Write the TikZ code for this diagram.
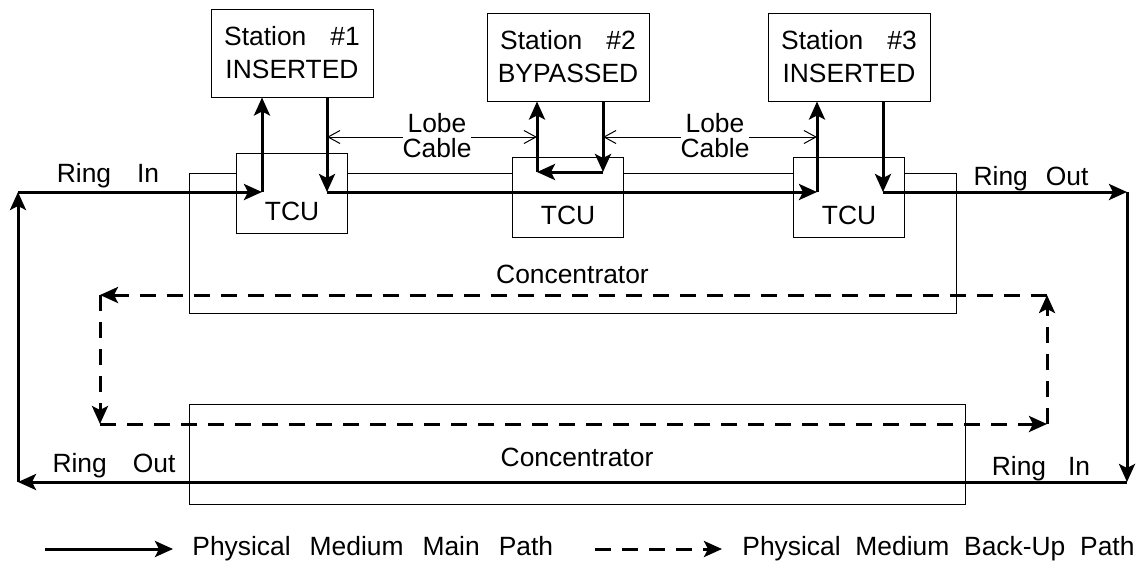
\documentclass[tikz,border=0pt]{standalone}
\usepackage{fontspec}
\setmainfont{Liberation Sans}
\usetikzlibrary{positioning,arrows.meta}
\tikzset{tcu/.style={draw,fill=white,line width=0.5pt,minimum width=55.5pt,minimum height=40pt,
           inner sep=0pt,text height=27pt,text depth=0pt},
         station/.style={draw,line width=0.5pt,minimum width=81pt,minimum height=44pt,
           align=center,font=\fontsize{13.2}{16.5}\selectfont},
         conc/.style={draw,line width=0.5pt,inner sep=0pt,text depth=0pt},
         main/.style={line width=1.5pt,-{Stealth[length=9pt,width=8pt,inset=2pt]}},
         backup/.style={main,dash pattern=on 8pt off 5.5pt},
         lobe/.style={line width=0.5pt,{Straight Barb[length=6pt,width=6.5pt]}-{Straight Barb[length=6pt,width=6.5pt]}},
         lobetext/.style={fill=white,inner sep=0pt,align=center,font=\fontsize{13.2}{12.5}\selectfont},
         lbl/.style={anchor=base,inner sep=0pt},
         every node/.style={font=\fontsize{13.2}{15}\selectfont},
         node distance = 27.5pt
         }
\newcommand{\wgap}[1][10pt]{\hspace{#1}}

\begin{document}
\begin{tikzpicture}[x=0.5pt,y=-0.5pt] % token ring, three stations
        \useasboundingbox (0,0) rectangle (1141,564);
        \node[conc,minimum width=383.5pt,minimum height=70pt,text height=40pt] (conc1) at (572.5,243) {Concentrator};
        \node[conc,minimum width=388pt,minimum height=50pt,text height=12pt] (conc2) at (577,454) {Concentrator};
        \node[tcu] (tcu1) at (292,193) {TCU};
        \node[tcu] (tcu2) at (568,197) {TCU};
        \node[tcu] (tcu3) at (849,197) {TCU};
        \node[station] (st1) [above=of tcu1] {Station\wgap[12pt]\#1\\INSERTED};
        \node[station] (st2) [above=of tcu2] {Station\wgap[12pt]\#2\\BYPASSED};
        \node[station] (st3) [above=of tcu3] {Station\wgap[12pt]\#3\\INSERTED};
        % ring corners and lobe points
        \coordinate (ri1) at (18,192);
        \coordinate (ro1) at (1127,192);
        \coordinate (ri2) at (1127,482);
        \coordinate (ro2) at (18,482);
        \coordinate (in1) at (262,192);
        \coordinate (out1) at (327,192);
        \coordinate (in3) at (817,192);
        \coordinate (out3) at (883,192);
        \coordinate (byr) at (603,172);
        \coordinate (byl) at (537,172);
        \coordinate (lobe) at (0,137);
        % main path
        \draw[main] (ro2) -- (ri1);
        \draw[main] (ri1) -- (in1);
        \draw[main] (in1) -- (in1 |- st1.south);
        \draw[main] (out1 |- st1.south) -- (out1);
        \draw[main] (out1) -- (in3);
        \draw[main] (in3) -- (in3 |- st3.south);
        \draw[main] (out3 |- st3.south) -- (out3);
        \draw[main] (out3) -- (ro1);
        \draw[main] (ro1) -- (ri2);
        \draw[main] (ri2) -- (ro2);
        \draw[main] (byr |- st2.south) -- (byr);
        \draw[main] (byr) -- (byl);
        \draw[main] (byl) -- (byl |- st2.south);
        % back-up path
        \coordinate (b1) at (1047,424);
        \coordinate (b2) at (1047,295);
        \coordinate (b3) at (100,295);
        \coordinate (b4) at (100,424);
        \draw[backup] (b1) -- (b2);
        \draw[backup] (b2) -- (b3);
        \draw[backup] (b3) -- (b4);
        \draw[backup] (b4) -- (b1);
        % lobe cables
        \draw[lobe] (out1 |- lobe) -- (byl |- lobe);
        \draw[lobe] (byr |- lobe) -- (in3 |- lobe);
        \node[lobetext] (lc1) at (437,136) {Lobe\\Cable};
        \node[lobetext] (lc2) at (715,136) {Lobe\\Cable};
        \node[lbl] (rin1) at (108,182) {Ring\wgap[13pt]In};
        \node[lbl] (rout1) at (1031,185) {Ring\wgap[9pt]Out};
        \node[lbl] (rout2) at (114,472) {Ring\wgap[13pt]Out};
        \node[lbl] (rin2) at (1041,475) {Ring\wgap[11pt]In};
        % legend
        \coordinate (m0) at (45,549);
        \coordinate (m1) at (173,549);
        \coordinate (k0) at (595,549);
        \coordinate (k1) at (722,549);
        \draw[main] (m0) -- (m1);
        \draw[backup] (k0) -- (k1);
        \node[lbl,anchor=base west] (lg1) at (192,555) {Physical\wgap[9.5pt]Medium\wgap[9.5pt]Main\wgap[9.5pt]Path};
        \node[lbl,anchor=base west] (lg2) at (742,555) {Physical\wgap[7.4pt]Medium\wgap[7.4pt]Back-Up\wgap[7.4pt]Path};
\end{tikzpicture}
\end{document}
